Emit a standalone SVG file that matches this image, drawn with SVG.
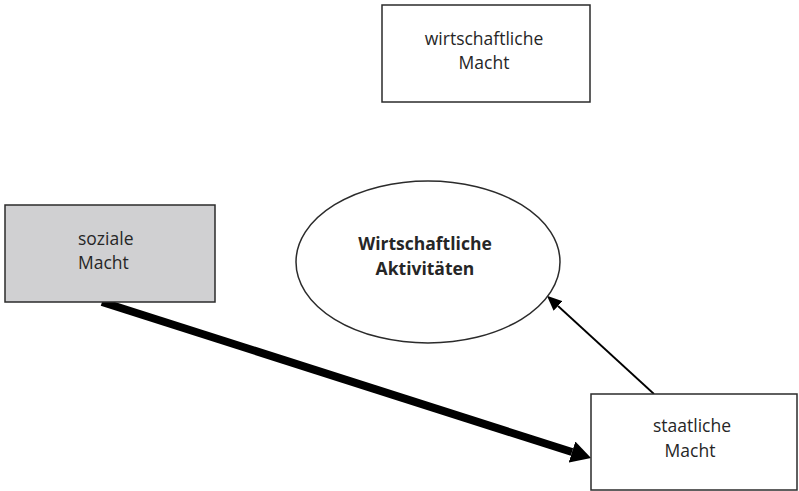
<svg xmlns="http://www.w3.org/2000/svg" width="799" height="491" viewBox="0 0 799 491">
  <style>
    .box { fill: #ffffff; stroke: #2b2b2b; stroke-width: 1.5; }
    .grey { fill: #d0d0d2; }
    .lbl { font-family: "Open Sans", "Noto Sans", sans-serif; font-size: 17.5px; fill: #262626; }
    .bold { font-weight: bold; }
    .mid { text-anchor: middle; }
  </style>
  <defs>
    <marker id="headThin" markerUnits="userSpaceOnUse" markerWidth="15" markerHeight="13" refX="0" refY="6.5" orient="auto">
      <path d="M0,0 L15,6.5 L0,13 z" fill="#000"/>
    </marker>
    <marker id="headThick" markerUnits="userSpaceOnUse" markerWidth="20" markerHeight="22" refX="0" refY="11" orient="auto">
      <path d="M0,0 L20,11 L0,22 z" fill="#000"/>
    </marker>
  </defs>

  <g id="connectors">
    <!-- soziale Macht -> staatliche Macht (heavy) -->
    <line x1="102" y1="302" x2="572" y2="452" stroke="#000" stroke-width="8" marker-end="url(#headThick)"/>
    <!-- staatliche Macht -> Wirtschaftliche Aktivitäten -->
    <line x1="654" y1="394" x2="558" y2="306" stroke="#000" stroke-width="1.8" marker-end="url(#headThin)"/>
  </g>

  <g id="wirtschaftliche-macht">
    <rect class="box" x="382" y="5" width="208" height="97"/>
    <text class="lbl mid" x="484" y="45">wirtschaftliche</text>
    <text class="lbl mid" x="484" y="69">Macht</text>
  </g>

  <g id="soziale-macht">
    <rect class="box grey" x="5" y="205" width="210" height="97"/>
    <text class="lbl" x="78" y="245">soziale</text>
    <text class="lbl" x="78" y="269">Macht</text>
  </g>

  <g id="wirtschaftliche-aktivitaeten">
    <ellipse class="box" cx="428" cy="262" rx="132" ry="81" stroke-width="1.3"/>
    <text class="lbl bold mid" x="425" y="250">Wirtschaftliche</text>
    <text class="lbl bold mid" x="425" y="275">Aktivitäten</text>
  </g>

  <g id="staatliche-macht">
    <rect class="box" x="591" y="394" width="206" height="96"/>
    <text class="lbl mid" x="692" y="432">staatliche</text>
    <text class="lbl mid" x="690" y="457">Macht</text>
  </g>
</svg>
